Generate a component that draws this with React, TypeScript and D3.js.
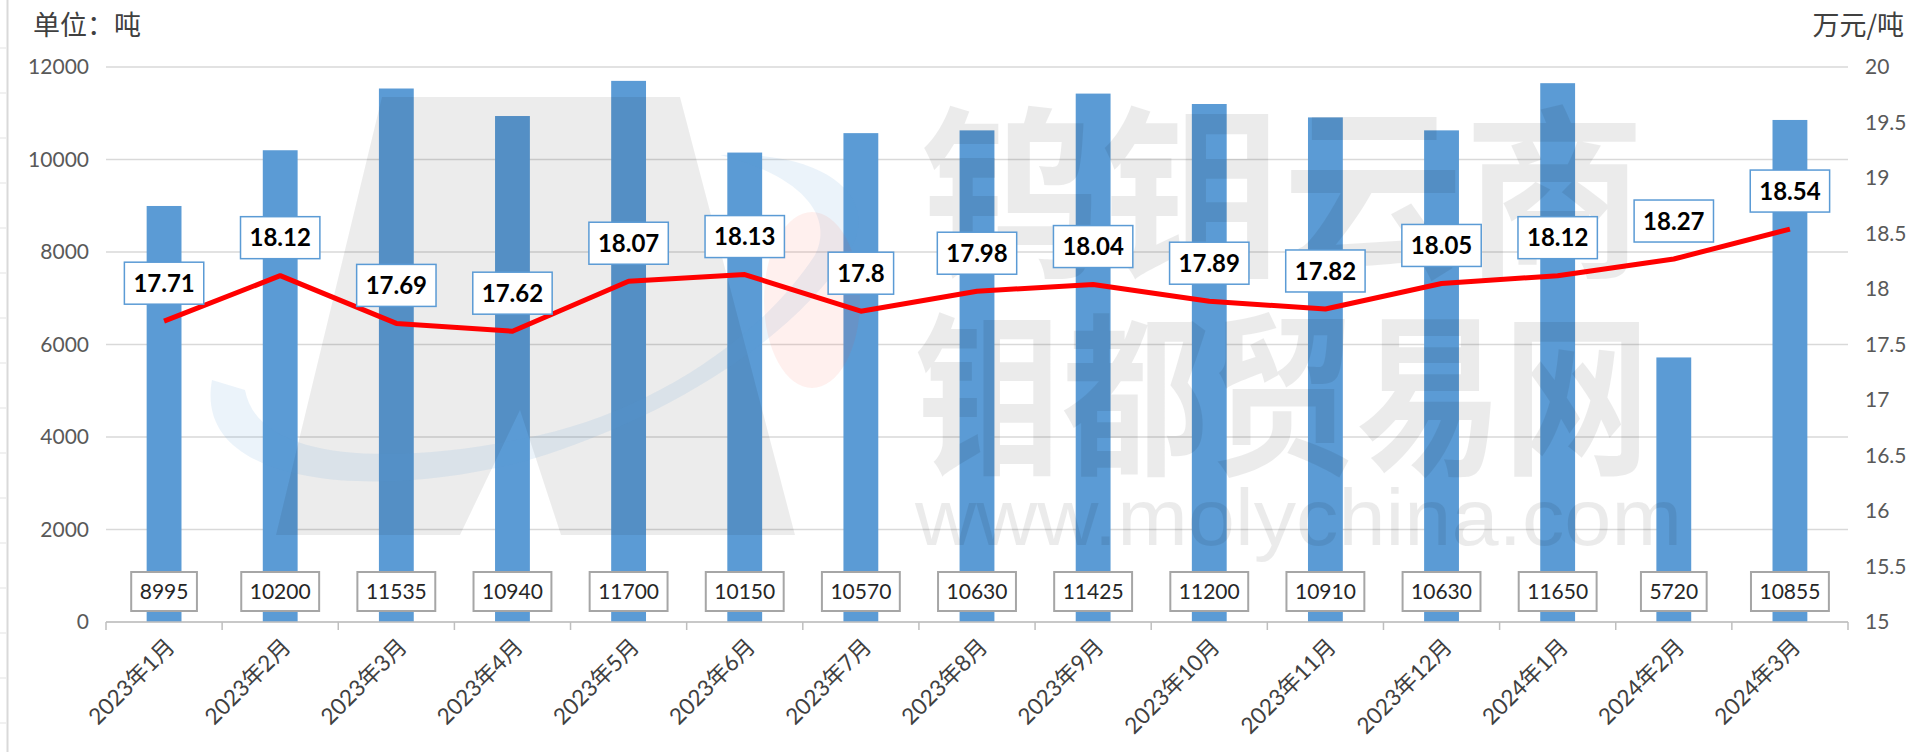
import React from "react";
import * as d3 from "d3";

const categories = [
  "2023年1月", "2023年2月", "2023年3月", "2023年4月", "2023年5月",
  "2023年6月", "2023年7月", "2023年8月", "2023年9月", "2023年10月",
  "2023年11月", "2023年12月", "2024年1月", "2024年2月", "2024年3月",
];
const volumes = [8995, 10200, 11535, 10940, 11700, 10150, 10570, 10630, 11425, 11200, 10910, 10630, 11650, 5720, 10855];
const prices = [17.71, 18.12, 17.69, 17.62, 18.07, 18.13, 17.8, 17.98, 18.04, 17.89, 17.82, 18.05, 18.12, 18.27, 18.54];
const leftUnit = "单位：吨";
const rightUnit = "万元/吨";

const W = 1925;
const H = 752;
const left = 106;
const right = 1848;
const top = 67;
const bottom = 622;

const NUM_FONT = "Lato, 'Noto Sans CJK SC', sans-serif";
const CJK_FONT = "'Noto Sans CJK SC', sans-serif";

// canvas measure for label boxes
const ctx = typeof document !== "undefined" ? document.createElement("canvas").getContext("2d") : null;
function textWidth(t: string, font: string) {
  if (!ctx) return t.length * 12;
  ctx.font = font;
  return ctx.measureText(t).width;
}

export default function App() {
  const x = d3.scaleBand<string>().domain(categories).range([left, right]).paddingInner(0.7).paddingOuter(0.35);
  const yL = d3.scaleLinear().domain([0, 12000]).range([bottom, top]);
  const yR = d3.scaleLinear().domain([15, 20]).range([bottom, top]);
  const cx = (c: string) => (x(c) as number) + x.bandwidth() / 2;

  const line = d3
    .line<number>()
    .x((_, i) => cx(categories[i]))
    .y((d) => yR(d));

  const step = x.step();
  const tickEdges = d3.range(categories.length + 1).map((i) => left + i * step);

  return (
    <svg width={W} height={H} style={{ position: "absolute", left: 0, top: 0, background: "#fff" }}>
      <rect width={W} height={H} fill="#fff" />

      {/* window edge */}
      <line x1={7.5} x2={7.5} y1={0} y2={H} stroke="#d9d9d9" strokeWidth={2} />
      {d3.range(48, H, 45).map((yy) => (
        <line key={yy} x1={0} x2={6} y1={yy} y2={yy} stroke="#e3e3e3" strokeWidth={1} />
      ))}

      {/* gridlines */}
      {yL.ticks(6).map((t) => (
        <line key={t} x1={left} x2={right} y1={yL(t)} y2={yL(t)} stroke="#d9d9d9" strokeWidth={1.5} />
      ))}

      {/* bars */}
      {categories.map((c, i) => (
        <rect key={c} x={x(c)} y={yL(volumes[i])} width={x.bandwidth()} height={bottom - yL(volumes[i])} fill="#5b9bd5" />
      ))}

      {/* watermark */}
      <g>
        <path d="M382,97 L680,97 L795,535 L561,535 L520,410 L460,535 L276,535 Z" fill="#000" opacity={0.075} />
        <path
          d="M212,380 C190,500 420,500 560,450 C690,405 800,330 850,250 C880,200 830,150 720,155 C800,175 835,215 815,255 C760,340 650,410 540,435 C420,462 260,470 245,390 Z"
          fill="#5b9bd5"
          opacity={0.12}
        />
        <ellipse cx={812} cy={300} rx={48} ry={88} fill="#ff4020" opacity={0.08} />
        <text x={920} y={263} fontSize={185} fontFamily={CJK_FONT} fontWeight={700} fill="#000" opacity={0.075} textLength={725} lengthAdjust="spacingAndGlyphs">
          钨钼云商
        </text>
        <text x={915} y={461} fontSize={175} fontFamily={CJK_FONT} fontWeight={700} fill="#000" opacity={0.075} textLength={735} lengthAdjust="spacingAndGlyphs">
          钼都贸易网
        </text>
        <text x={915} y={545} fontSize={80} fontFamily="'Liberation Sans', sans-serif" fill="#000" opacity={0.075} textLength={767} lengthAdjust="spacingAndGlyphs">
          www.molychina.com
        </text>
      </g>

      {/* x axis */}
      <line x1={left} x2={right} y1={bottom} y2={bottom} stroke="#bfbfbf" strokeWidth={1.5} />
      {tickEdges.map((tx, i) => (
        <line key={i} x1={tx} x2={tx} y1={bottom} y2={bottom + 8} stroke="#bfbfbf" strokeWidth={1.5} />
      ))}
      {categories.map((c) => (
        <text
          key={c}
          transform={`translate(${cx(c) + 12},${648}) rotate(-45)`}
          textAnchor="end"
          fontSize={22.5}
          fontFamily={NUM_FONT}
          fill="#404040"
        >
          {c}
        </text>
      ))}

      {/* left axis */}
      {yL.ticks(6).map((t) => (
        <text key={t} x={89} y={yL(t)} dy="0.35em" textAnchor="end" fontSize={21} fontFamily={NUM_FONT} fill="#595959">
          {String(t)}
        </text>
      ))}
      {/* right axis */}
      {yR.ticks(10).map((t) => (
        <text key={t} x={1865} y={yR(t)} dy="0.35em" fontSize={21} fontFamily={NUM_FONT} fill="#595959">
          {String(t)}
        </text>
      ))}

      <text x={33} y={35} fontSize={27} fontFamily={CJK_FONT} fill="#404040">
        {leftUnit}
      </text>
      <text x={1904} y={35} textAnchor="end" fontSize={27} fontFamily={CJK_FONT} fill="#404040">
        {rightUnit}
      </text>

      {/* price line */}
      <path d={line(prices) || ""} fill="none" stroke="#ff0000" strokeWidth={5} strokeLinejoin="round" />

      {/* volume labels */}
      {categories.map((c, i) => {
        const t = String(volumes[i]);
        const w = textWidth(t, `21px ${NUM_FONT}`) + 17;
        return (
          <g key={c} transform={`translate(${cx(c)},591.5)`}>
            <rect x={-w / 2} y={-19.5} width={w} height={39} fill="#fff" stroke="#a6a6a6" strokeWidth={2} />
            <text textAnchor="middle" dy="0.36em" fontSize={21} fontFamily={NUM_FONT} fill="#262626">
              {t}
            </text>
          </g>
        );
      })}

      {/* price labels */}
      {categories.map((c, i) => {
        const t = String(prices[i]);
        const w = textWidth(t, `bold 24px ${NUM_FONT}`) + 18;
        return (
          <g key={c} transform={`translate(${cx(c)},${yR(prices[i]) - 38})`}>
            <rect x={-w / 2} y={-21} width={w} height={42} fill="#fff" stroke="#5b9bd5" strokeWidth={1.5} />
            <text textAnchor="middle" dy="0.36em" fontSize={24} fontWeight={700} fontFamily={NUM_FONT} fill="#000">
              {t}
            </text>
          </g>
        );
      })}
    </svg>
  );
}
